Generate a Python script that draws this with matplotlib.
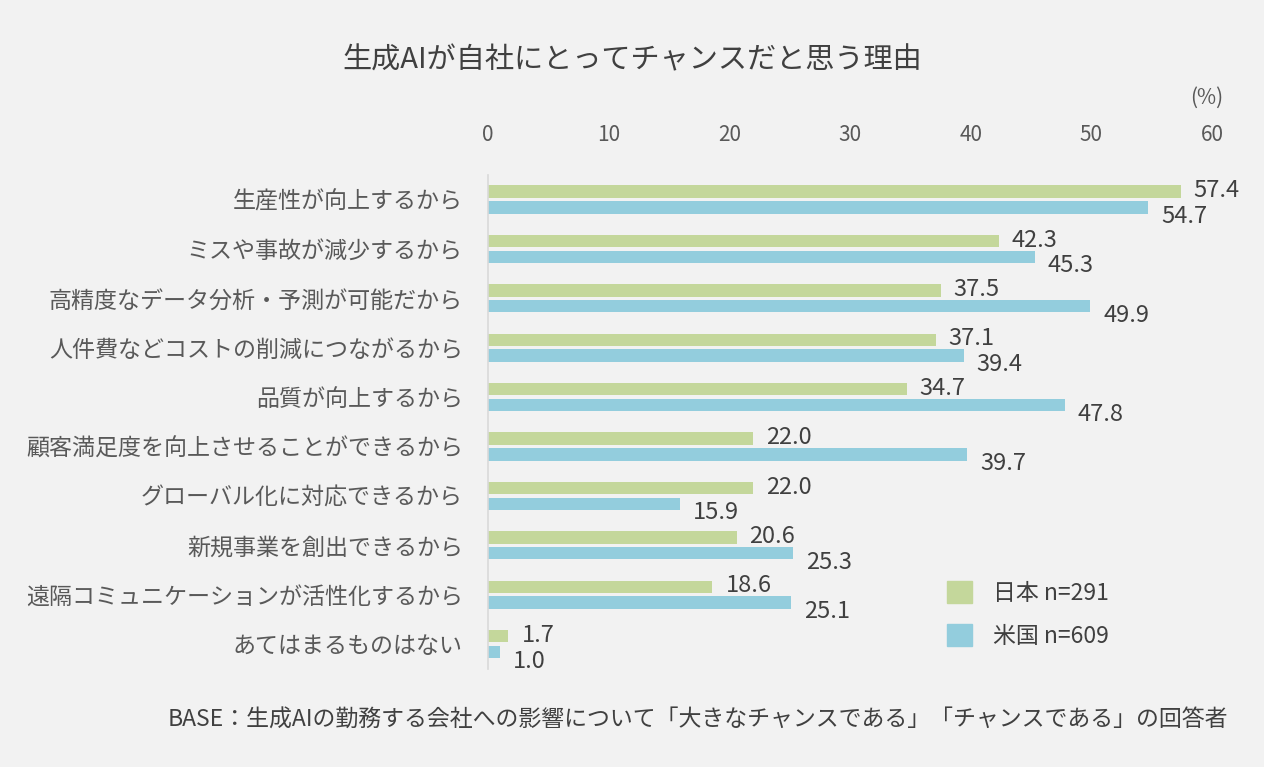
import numpy as np
import matplotlib.pyplot as plt
from matplotlib.patches import Patch

plt.rcParams['font.family'] = ['Noto Sans CJK JP', 'DejaVu Sans']

categories = ['生産性が向上するから', 'ミスや事故が減少するから', '高精度なデータ分析・予測が可能だから',
              '人件費などコストの削減につながるから', '品質が向上するから', '顧客満足度を向上させることができるから',
              'グローバル化に対応できるから', '新規事業を創出できるから', '遠隔コミュニケーションが活性化するから',
              'あてはまるものはない']
japan = [57.4, 42.3, 37.5, 37.1, 34.7, 22.0, 22.0, 20.6, 18.6, 1.7]
usa = [54.7, 45.3, 49.9, 39.4, 47.8, 39.7, 15.9, 25.3, 25.1, 1.0]
ticks = [0, 10, 20, 30, 40, 50, 60]

bg = '#f2f2f2'
c_jp = '#c4d79b'
c_us = '#93cddd'
txt = '#404040'

fig = plt.figure(figsize=(12.64, 7.67), dpi=100, facecolor=bg)
ax = fig.add_axes([0.386, 0.128, 0.573, 0.644], facecolor=bg)

y = np.arange(len(categories))
h = 0.25
ax.barh(y - 0.16, japan, height=h, color=c_jp)
ax.barh(y + 0.16, usa, height=h, color=c_us)

for i in range(len(categories)):
    ax.annotate(f'{japan[i]:.1f}', (japan[i], y[i] - 0.16), xytext=(13, 1), textcoords='offset pixels',
                va='center', ha='left', fontsize=17, color=txt)
    ax.annotate(f'{usa[i]:.1f}', (usa[i], y[i] + 0.16), xytext=(13, -9), textcoords='offset pixels',
                va='center', ha='left', fontsize=17, color=txt)

ax.set_xlim(0, 60)
ax.set_ylim(len(categories) - 0.5, -0.5)
ax.set_yticks(y)
ax.set_yticklabels(categories, fontsize=16.6, color='#595959')
ax.set_xticks(ticks)
ax.set_xticklabels([str(t) for t in ticks], fontsize=15, color='#595959')
ax.xaxis.tick_top()
ax.tick_params(axis='both', length=0)
ax.tick_params(axis='y', pad=18)
ax.tick_params(axis='x', pad=21)
for s in ['top', 'right', 'bottom']:
    ax.spines[s].set_visible(False)
ax.spines['left'].set_color('#d9d9d9')
ax.spines['left'].set_linewidth(1.2)

fig.text(0.5, 0.921, '生成AIが自社にとってチャンスだと思う理由', ha='center', va='center', fontsize=21, color=txt)
fig.text(0.955, 0.873, '(%)', ha='center', va='center', fontsize=15, color='#595959')
fig.text(0.972, 0.061, 'BASE：生成AIの勤務する会社への影響について「大きなチャンスである」「チャンスである」の回答者',
         ha='right', va='center', fontsize=16.5, color=txt)

handles = [Patch(color=c_jp), Patch(color=c_us)]
ax.legend(handles, ['日本 n=291', '米国 n=609'], loc='lower left', bbox_to_anchor=(0.605, 0.0),
          frameon=False, fontsize=16.5, labelcolor=txt, handlelength=1.1, handleheight=1.1,
          labelspacing=0.85, handletextpad=0.9)

fig.savefig('out.png', dpi=100, facecolor=bg)
